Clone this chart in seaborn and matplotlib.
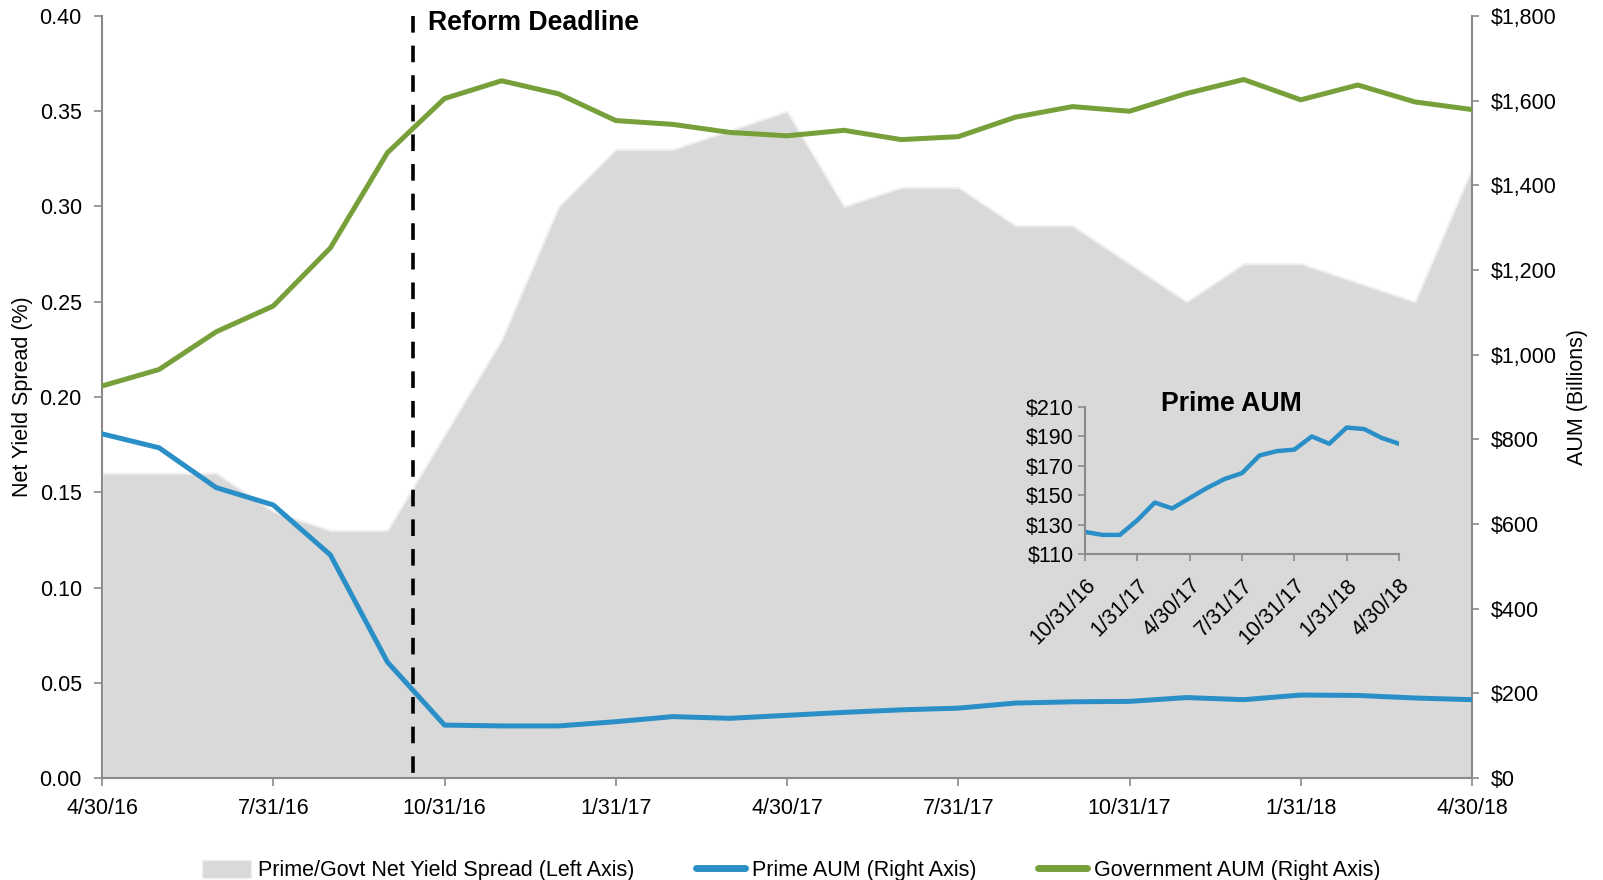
import numpy as np
import pandas as pd
import matplotlib
matplotlib.use("Agg")
import matplotlib.pyplot as plt
import seaborn as sns
from matplotlib.patches import Patch
from matplotlib.lines import Line2D
from matplotlib.ticker import FuncFormatter, MultipleLocator

# ---------------- data ----------------
dates = pd.date_range("2016-04-30", periods=25, freq="ME")
spread = [0.16, 0.16, 0.16, 0.14, 0.13, 0.13, 0.18, 0.23, 0.30, 0.33, 0.33, 0.34, 0.35,
          0.30, 0.31, 0.31, 0.29, 0.29, 0.27, 0.25, 0.27, 0.27, 0.26, 0.25, 0.32]
prime_aum = [813, 780, 686, 645, 527, 274, 125, 123, 123, 133, 145, 141, 148,
             155, 161, 165, 177, 180, 181, 190, 185, 196, 195, 189, 185]
govt_aum = [926, 965, 1054, 1115, 1252, 1477, 1605, 1647, 1616, 1553, 1544, 1525, 1517,
            1530, 1508, 1515, 1561, 1586, 1575, 1617, 1650, 1602, 1637, 1597, 1579]
inset_start = pd.Timestamp("2016-10-31")
reform_date = pd.Timestamp("2016-10-14")
tick_step = 3
inset_yticks = [110, 130, 150, 170, 190, 210]

spread_label = "Prime/Govt Net Yield Spread (Left Axis)"
prime_label = "Prime AUM (Right Axis)"
govt_label = "Government AUM (Right Axis)"

# ---------------- style ----------------
sns.set_style("white")
plt.rcParams["font.family"] = ["Liberation Sans", "DejaVu Sans"]
plt.rcParams["text.color"] = "black"

BLUE = "#2b8fc7"
GREEN = "#77a03b"
AREA = "#d9d9d9"
SPINE = "#8a8a8a"
FS = 15.5

df = pd.DataFrame({"date": dates, "spread": spread, "prime": prime_aum, "govt": govt_aum})
df["idx"] = np.arange(len(df))
labels = [f"{d.month}/{d.day}/{d.year % 100:02d}" for d in dates]

# fractional position of the reform deadline
prev = df[df.date <= reform_date].iloc[-1]
nxt = df[df.date > reform_date].iloc[0]
deadline_x = prev.idx + (reform_date - prev.date).days / (nxt.date - prev.date).days

fig = plt.figure(figsize=(16.03, 8.8), dpi=100)
L, R, T, B = 102 / 1603, 1472 / 1603, 1 - 16 / 880, 1 - 778 / 880
ax = fig.add_axes([L, B, R - L, T - B])

ax.fill_between(df.idx, df.spread, color=AREA, edgecolor="#efefef", lw=1.5, zorder=1)
ax.set_xlim(0, len(df) - 1)
ax.set_ylim(0, 0.40)
ax.yaxis.set_major_locator(MultipleLocator(0.05))
ax.yaxis.set_major_formatter(FuncFormatter(lambda v, p: f"{v:.2f}"))
tick_idx = df.idx[::tick_step]
ax.set_xticks(tick_idx)
ax.set_xticklabels([labels[i] for i in tick_idx])
ax.tick_params(axis="both", which="major", bottom=True, left=True, direction="out",
               length=6, width=1.2, color=SPINE, labelsize=FS, labelcolor="black", pad=8.5)
for s in ["top", "right"]:
    ax.spines[s].set_visible(False)
for s in ["left", "bottom"]:
    ax.spines[s].set_color(SPINE)
    ax.spines[s].set_linewidth(1.5)
ax.set_ylabel("Net Yield Spread (%)", fontsize=FS, color="black")
ax.yaxis.set_label_coords(-0.0505, 0.5)
ax.set_xlabel("")

ax2 = ax.twinx()
sns.lineplot(data=df, x="idx", y="prime", ax=ax2, color=BLUE, lw=3.6, zorder=3)
sns.lineplot(data=df, x="idx", y="govt", ax=ax2, color=GREEN, lw=3.6, zorder=3)
ax2.set_ylim(0, 1800)
ax2.yaxis.set_major_locator(MultipleLocator(200))
ax2.yaxis.set_major_formatter(FuncFormatter(lambda v, p: f"${v:,.0f}"))
ax2.tick_params(axis="y", right=True, direction="out", length=5, width=1.2, color=SPINE,
                labelsize=FS, labelcolor="black", pad=8.5)
for s in ["top", "left", "bottom"]:
    ax2.spines[s].set_visible(False)
ax2.spines["right"].set_color(SPINE)
ax2.spines["right"].set_linewidth(1.5)
ax2.set_xlabel("")
ax2.set_ylabel("AUM (Billions)", fontsize=FS, color="black")
ax2.yaxis.set_label_coords(1.0690, 0.5)

# reform deadline (drawn top-down so the dash pattern starts at the top)
ax2.plot([deadline_x, deadline_x], [1800, -12], color="black", lw=2.6,
         dashes=(4.6, 3.6), zorder=5, clip_on=False)
ax2.annotate("Reform Deadline", xy=(deadline_x, 1), xycoords=("data", "axes fraction"),
             xytext=(11, -4.7), textcoords="offset points", ha="left", va="center",
             fontsize=19.2, fontweight="bold")

# inset
IL, IR, IT, IB = 1085 / 1603, 1399 / 1603, 1 - 407 / 880, 1 - 554 / 880
axi = fig.add_axes([IL, IB, IR - IL, IT - IB])
axi.patch.set_alpha(0)
dfi = df[df.date >= inset_start]
sns.lineplot(data=dfi, x="idx", y="prime", ax=axi, color=BLUE, lw=3.2)
axi.set_xlim(dfi.idx.iloc[0], dfi.idx.iloc[-1])
axi.set_ylim(inset_yticks[0], inset_yticks[-1])
axi.set_yticks(inset_yticks)
axi.yaxis.set_major_formatter(FuncFormatter(lambda v, p: f"${v:.0f}"))
itk = dfi.idx[::tick_step]
axi.set_xticks(itk)
axi.set_xticklabels([labels[i] for i in itk], rotation=45, ha="right", rotation_mode="anchor")
axi.tick_params(axis="both", bottom=True, left=True, direction="out", length=5, width=1.2,
                color=SPINE, labelsize=FS, labelcolor="black", pad=3)
axi.tick_params(axis="x", pad=10)
for s in ["top", "right"]:
    axi.spines[s].set_visible(False)
for s in ["left", "bottom"]:
    axi.spines[s].set_color(SPINE)
    axi.spines[s].set_linewidth(1.5)
axi.set_xlabel("")
axi.set_ylabel("")
axi.text(0.465, 1.02, "Prime AUM", transform=axi.transAxes, ha="center", va="center",
         fontsize=19.2, fontweight="bold")

# legend
handles = [Patch(facecolor=AREA, edgecolor="#efefef", label=spread_label),
           Line2D([], [], color=BLUE, lw=5, label=prime_label),
           Line2D([], [], color=GREEN, lw=5, label=govt_label)]
fig.legend(handles=handles, loc="center", bbox_to_anchor=(0.4935, 0.011), ncol=3,
           frameon=False, fontsize=FS, handlelength=2.28, handleheight=0.9,
           handletextpad=0.33, columnspacing=2.85)

fig.savefig("out.png", dpi=100)
